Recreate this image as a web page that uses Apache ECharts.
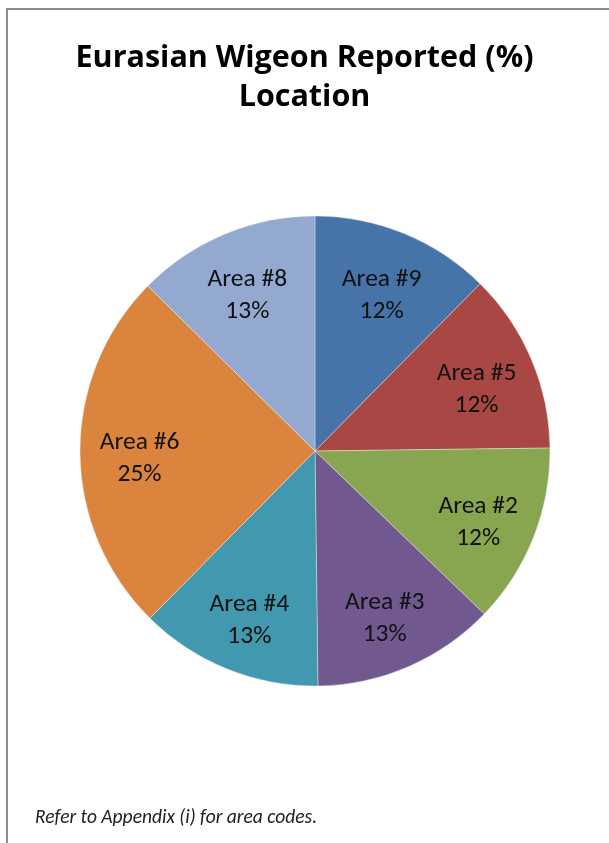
<!DOCTYPE html>
<html>
<head>
<meta charset="utf-8">
<script src="https://cdn.jsdelivr.net/npm/echarts@6/dist/echarts.min.js"></script>
<style>
html,body{margin:0;padding:0;background:#fff;}
#chart{width:609px;height:843px;}
</style>
</head>
<body>
<div id="chart"></div>
<script>
const categories = ['Area #9', 'Area #5', 'Area #2', 'Area #3', 'Area #4', 'Area #6', 'Area #8'];
const values = [12.4, 12.4, 12.4, 12.6, 12.6, 25, 12.6];
const colors = ['#4673A8', '#A94744', '#88A64F', '#71598F', '#4298AE', '#DA843E', '#93A9CF'];
const titleText = 'Eurasian Wigeon Reported (%)\nLocation';
const noteText = 'Refer to Appendix (i) for area codes.';

const FONT = 'Carlito, Lato, sans-serif';
const data = categories.map((c, i) => ({ name: c, value: values[i], itemStyle: { color: colors[i] } }));

const chart = echarts.init(document.getElementById('chart'));
chart.setOption({
  animation: false,
  title: {
    text: titleText,
    left: 'center',
    top: 34,
    padding: [5, 0, 5, 10],
    textStyle: { fontFamily: '"Open Sans", sans-serif', fontWeight: 'bold', fontSize: 30.5, lineHeight: 39, color: '#000' }
  },
  graphic: [
    { type: 'rect', shape: { x: 7, y: 9, width: 800, height: 1000 }, style: { fill: 'none', stroke: '#8c8c8c', lineWidth: 2 }, silent: true },
    { type: 'text', left: 35, top: 808, style: { text: noteText, font: 'italic 19.5px ' + FONT, fill: '#222' } }
  ],
  series: [
    {
      type: 'pie',
      center: [315, 451],
      radius: 235,
      startAngle: 90,
      clockwise: true,
      silent: true,
      label: { show: false },
      labelLine: { show: false },
      itemStyle: { borderColor: 'rgba(255,255,255,0.35)', borderWidth: 1 },
      data: data
    },
    {
      type: 'pie',
      center: [315, 451],
      radius: [110, 235],
      startAngle: 90,
      clockwise: true,
      silent: true,
      percentPrecision: 0,
      itemStyle: { color: 'rgba(0,0,0,0)', borderWidth: 0 },
      label: {
        show: true,
        position: 'inside',
        formatter: '{b}\n{d}%',
        fontFamily: FONT,
        fontSize: 25.5,
        lineHeight: 32,
        color: '#111',
        align: 'center'
      },
      labelLayout: { dy: 7 },
      labelLine: { show: false },
      data: categories.map((c, i) => ({ name: c, value: values[i] }))
    }
  ]
});
</script>
</body>
</html>
